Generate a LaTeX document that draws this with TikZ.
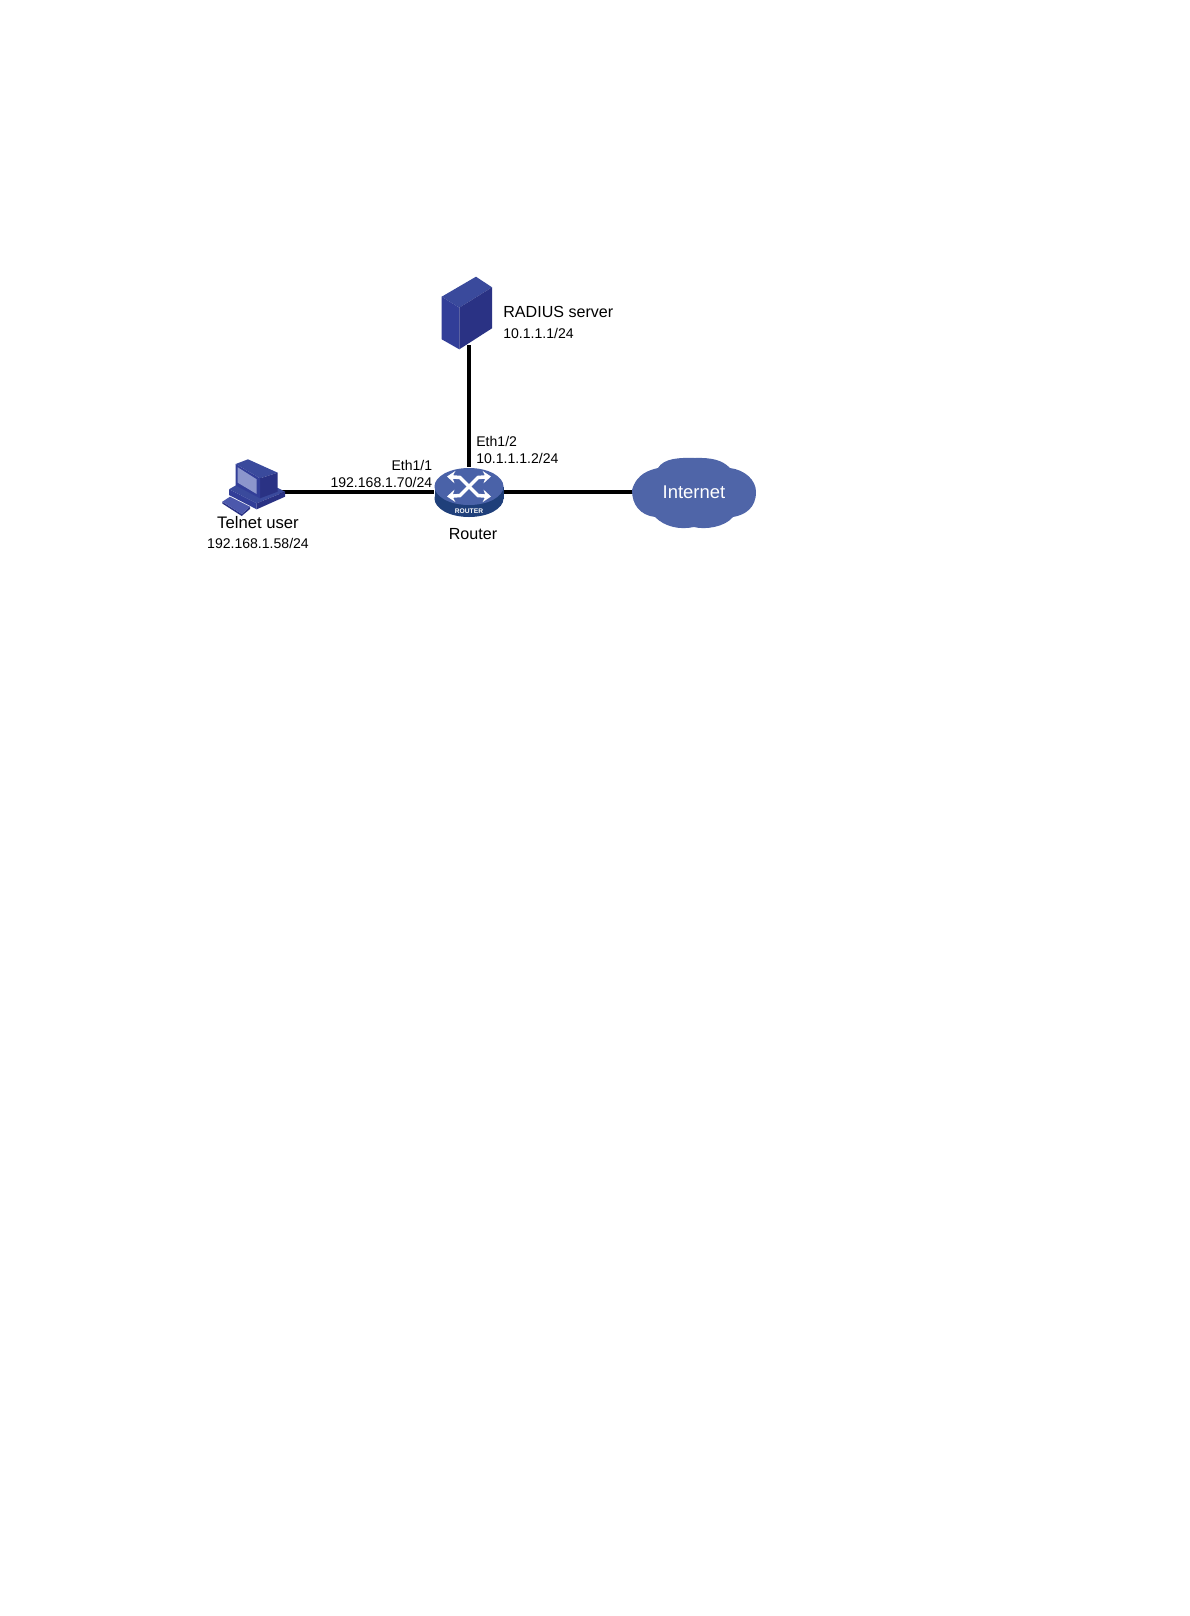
\documentclass[tikz,border=0pt]{standalone}
\usepackage{fontspec}
\setmainfont{Liberation Sans}
\usetikzlibrary{arrows.meta,shapes.geometric}

\definecolor{srvtop}{HTML}{3A4A9C}
\definecolor{srvleft}{HTML}{323E98}
\definecolor{srvright}{HTML}{2A3284}
\definecolor{rtrtop}{HTML}{4A62A8}
\definecolor{rtrside}{HTML}{1F3F7A}
\definecolor{cloudblue}{HTML}{4F65A8}
\definecolor{pcscreen}{HTML}{8C96CC}
\definecolor{pckeys}{HTML}{4C58AC}

\begin{document}
\begin{tikzpicture}[
  x=0.02cm,y=-0.02cm,
  hub/.style={ellipse,inner sep=0pt,minimum width=39.3pt,minimum height=27.9pt},
  link/.style={line width=1.8pt,black},
  cross/.style={white,line width=2pt,miter limit=4,{Stealth[length=4.5pt,width=7pt]}-{Stealth[length=4.5pt,width=7pt]}},
  lbl/.style={font=\fontsize{9.15}{11}\selectfont,inner sep=0pt},
  addr/.style={font=\fontsize{8}{10}\selectfont,inner sep=0pt}
]
\useasboundingbox (0,0) rectangle (1190,1616);
\fill[white] (0,0) rectangle (1190,1616);

\node[hub] (router) at (469,492) {};
\coordinate (server) at (469,345);
\coordinate (pc) at (280,492);
\coordinate (cloud) at (640,492);

\draw[link] (server) -- (router.north);
\draw[link] (pc) -- (router.west);
\draw[link] (router.east) -- (cloud);

% server
\fill[srvtop] (441.7,296.7) -- (476,276.7) -- (492,287.3) -- (459.3,307.7) -- cycle;
\fill[srvleft] (441.7,296.7) -- (459.3,307.7) -- (459.3,349.3) -- (441.7,339.3) -- cycle;
\fill[srvright] (459.3,307.7) -- (492,287.3) -- (492,328.3) -- (459.3,349.3) -- cycle;

% user
\fill[srvright] (222.3,501.7) -- (241.7,514) -- (250,506.7) -- (250,509) -- (241.7,516) -- (222.3,503.5) -- cycle;
\fill[pckeys] (222.3,501.7) -- (230,496.7) -- (250,506.7) -- (241.7,514) -- cycle;
\fill[srvtop] (229,489.3) -- (240,483) -- (278,488) -- (285,491.7) -- (256.7,503.3) -- cycle;
\fill[srvleft] (229,489.3) -- (256.7,503.3) -- (256.7,509.3) -- (229,495) -- cycle;
\fill[srvright] (256.7,503.3) -- (285,491.7) -- (285,496.7) -- (256.7,509.3) -- cycle;
\fill[srvtop] (235.7,464) -- (248,459.3) -- (277.7,472.7) -- (260,478.3) -- cycle;
\fill[srvright] (260,478.3) -- (277.7,472.7) -- (277.7,491.7) -- (260,498.3) -- cycle;
\fill[srvleft] (235.7,464) -- (260,478.3) -- (260,498.3) -- (235.7,485.5) -- cycle;
\fill[pcscreen] (237.7,467.3) -- (256.7,479.3) -- (256.7,494) -- (237.7,482.7) -- cycle;

% router
\fill[rtrside] (469,498.5) ellipse[x radius=34.5,y radius=18.5];
\fill[rtrside] (434.5,486.5) rectangle (503.5,498.5);
\fill[rtrtop] (469,486.5) ellipse[x radius=34.5,y radius=18.5];
\draw[cross] (447,476.5) -- (460,477.5) -- (478,495.5) -- (491,496.5);
\draw[cross] (447,496.5) -- (460,495.5) -- (478,477.5) -- (491,476.5);
\node[white,font=\fontsize{3.8}{5}\selectfont\bfseries,inner sep=0pt] (routertag) at (469,510.7) {ROUTER};

% internet
\fill[cloudblue] (632,490) .. controls (637,473) and (650,470) .. (658,468)
  .. controls (664,458) and (680,457.5) .. (695,458)
  .. controls (712,457.5) and (722,460) .. (730,468)
  .. controls (745,470) and (756,480) .. (756,492)
  .. controls (756,508) and (745,515) .. (733,517)
  .. controls (725,527) and (705,530) .. (694,527)
  .. controls (680,530) and (665,527) .. (655,517)
  .. controls (640,515) and (632,505) .. (632,490) -- cycle;
\node[white,lbl,font=\fontsize{10.5}{12}\selectfont] (internet) at (694,492) {Internet};

\node[lbl,anchor=west] (serverlbl) at (503,312) {RADIUS server};
\node[addr,anchor=west] (serveraddr) at (503,333) {10.1.1.1/24};
\node[lbl,font=\fontsize{9.5}{11}\selectfont] (userlbl) at (258,523) {Telnet user};
\node[addr] (useraddr) at (258,543) {192.168.1.58/24};
\node[lbl] (routerlbl) at (473,534) {Router};
\node[addr,anchor=east] (portone) at (432.5,465.5) {Eth1/1};
\node[addr,anchor=east] (portoneip) at (432.5,482) {192.168.1.70/24};
\node[addr,anchor=west] (porttwo) at (476,441) {Eth1/2};
\node[addr,anchor=west] (porttwoip) at (476,458) {10.1.1.1.2/24};
\end{tikzpicture}
\end{document}
